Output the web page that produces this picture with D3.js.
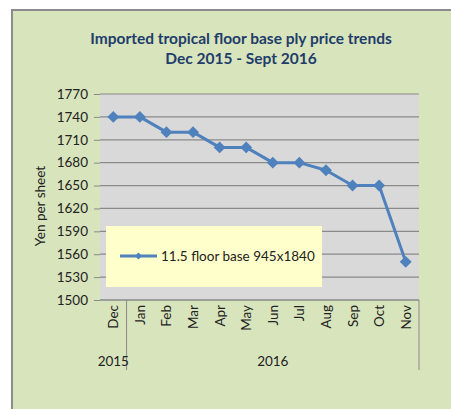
<!DOCTYPE html>
<html>
<head>
<meta charset="utf-8">
<title>Imported tropical floor base ply price trends</title>
<script src="https://cdn.jsdelivr.net/npm/d3@7"></script>
<style>
  html, body { margin: 0; padding: 0; background: #fff; }
  svg { display: block; font-family: Lato, "Open Sans", sans-serif; }
</style>
</head>
<body>
<svg id="chart" width="451" height="409"></svg>
<script>
  // data
  var months = ["Dec", "Jan", "Feb", "Mar", "Apr", "May", "Jun", "Jul", "Aug", "Sep", "Oct", "Nov"];
  var prices = [1740, 1740, 1720, 1720, 1700, 1700, 1680, 1680, 1670, 1650, 1650, 1550];
  var yTicks = [1500, 1530, 1560, 1590, 1620, 1650, 1680, 1710, 1740, 1770];
  var years = [{label: "2015", from: 0, to: 0}, {label: "2016", from: 1, to: 11}];
  var seriesName = "11.5 floor base 945x1840";

  var svg = d3.select("#chart");

  // outer chart area
  svg.append("rect").attr("x", 12).attr("y", 10).attr("width", 445).attr("height", 405)
    .attr("fill", "#d8e4bc").attr("stroke", "#8c8c8c").attr("stroke-width", 2);

  var plot = {left: 100, right: 419, top: 94, bottom: 300};

  var x = d3.scaleBand().domain(months).range([plot.left, plot.right]);
  var y = d3.scaleLinear().domain([1500, 1770]).range([plot.bottom, plot.top]);

  svg.append("rect").attr("x", plot.left).attr("y", plot.top)
    .attr("width", plot.right - plot.left).attr("height", plot.bottom - plot.top)
    .attr("fill", "#d9d9d9");

  // gridlines
  svg.append("g").selectAll("line").data(yTicks).join("line")
    .attr("x1", plot.left).attr("x2", plot.right)
    .attr("y1", function (d) { return y(d); }).attr("y2", function (d) { return y(d); })
    .attr("stroke", "#8a8a8a").attr("stroke-width", 1.2);

  // y axis labels
  var yAxis = svg.append("g").attr("transform", "translate(" + plot.left + ",0)")
    .call(d3.axisLeft(y).tickValues(yTicks).tickFormat(d3.format("d")).tickSize(6).tickPadding(6));
  yAxis.select(".domain").remove();
  yAxis.selectAll(".tick line").attr("stroke", "#8a8a8a");
  yAxis.selectAll("text").attr("fill", "#222").attr("font-size", 13.5)
    .attr("font-family", "Lato, 'Open Sans', sans-serif");

  svg.append("text").attr("transform", "translate(45,206) rotate(-90)")
    .attr("text-anchor", "middle").attr("font-size", 13.5).attr("fill", "#222")
    .text("Yen per sheet");

  // x axis: months rotated
  svg.append("line").attr("x1", plot.left).attr("x2", plot.right)
    .attr("y1", plot.bottom).attr("y2", plot.bottom).attr("stroke", "#8a8a8a").attr("stroke-width", 1.2);
  svg.append("g").selectAll("text").data(months).join("text")
    .attr("transform", function (d) {
      return "translate(" + (x(d) + x.bandwidth() / 2 + 5) + "," + (plot.bottom + 5) + ") rotate(-90)";
    })
    .attr("text-anchor", "end").attr("font-size", 13.5).attr("fill", "#222")
    .text(function (d) { return d; });

  // year groups
  var bounds = [0];
  years.forEach(function (g) { bounds.push(g.to + 1); });
  svg.append("g").selectAll("line").data(bounds.slice(1)).join("line")
    .attr("x1", function (i) { return plot.left + i * x.step(); })
    .attr("x2", function (i) { return plot.left + i * x.step(); })
    .attr("y1", plot.bottom).attr("y2", 370)
    .attr("stroke", "#8a8a8a").attr("stroke-width", 1);
  svg.append("g").selectAll("text").data(years).join("text")
    .attr("x", function (g) {
      return (x(months[g.from]) + x(months[g.to]) + x.bandwidth()) / 2;
    })
    .attr("y", 366).attr("text-anchor", "middle").attr("font-size", 13.5).attr("fill", "#222")
    .text(function (g) { return g.label; });

  // legend box
  var lg = svg.append("g");
  lg.append("rect").attr("x", 106).attr("y", 226).attr("width", 216).attr("height", 61)
    .attr("fill", "#ffffcc");
  lg.append("line").attr("x1", 120).attr("x2", 157).attr("y1", 256).attr("y2", 256)
    .attr("stroke", "#4f81bd").attr("stroke-width", 3);
  lg.append("path").attr("d", d3.symbol(d3.symbolDiamond2, 30)())
    .attr("transform", "translate(138.5,256)").attr("fill", "#4f81bd");
  lg.append("text").attr("x", 161).attr("y", 261).attr("font-size", 13.5).attr("fill", "#222")
    .text(seriesName);

  // series line
  var pts = months.map(function (m, i) { return [x(m) + x.bandwidth() / 2, y(prices[i])]; });
  svg.append("path").datum(pts).attr("d", d3.line())
    .attr("fill", "none").attr("stroke", "#4f81bd").attr("stroke-width", 3)
    .attr("stroke-linejoin", "round");
  svg.append("g").selectAll("path").data(pts).join("path")
    .attr("d", d3.symbol(d3.symbolDiamond2, 90)())
    .attr("transform", function (p) { return "translate(" + p[0] + "," + p[1] + ")"; })
    .attr("fill", "#4f81bd");

  // title
  var title = svg.append("text").attr("text-anchor", "middle").attr("font-weight", "bold")
    .attr("font-size", 15.5).attr("fill", "#1f3d6b");
  title.append("tspan").attr("x", 241).attr("y", 44).text("Imported tropical floor base ply price trends");
  title.append("tspan").attr("x", 241).attr("y", 64).text("Dec 2015 - Sept 2016");
</script>
</body>
</html>
